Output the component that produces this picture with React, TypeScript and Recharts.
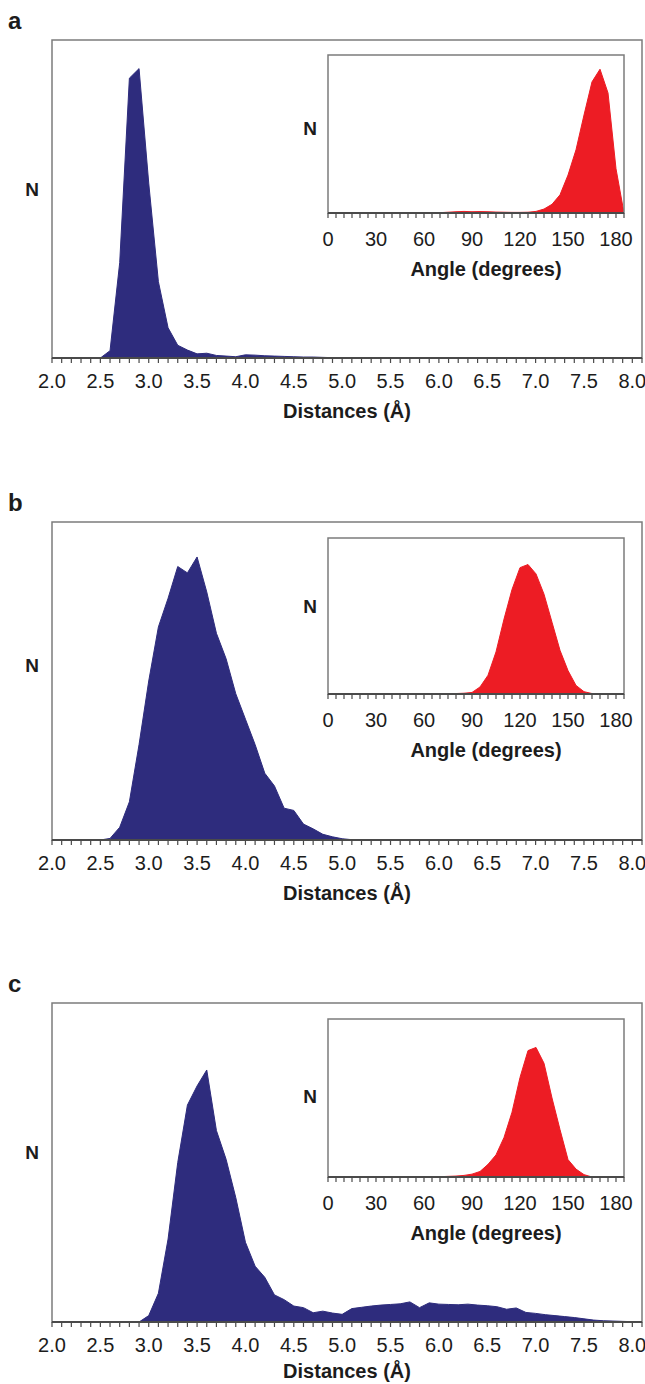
import React from 'react'
import { AreaChart, Area, XAxis, YAxis, ReferenceArea } from 'recharts'

// distance bins (Å), one every 0.1
const distBins = [
  2.0, 2.1, 2.2, 2.3, 2.4, 2.5, 2.6, 2.7, 2.8, 2.9,
  3.0, 3.1, 3.2, 3.3, 3.4, 3.5, 3.6, 3.7, 3.8, 3.9,
  4.0, 4.1, 4.2, 4.3, 4.4, 4.5, 4.6, 4.7, 4.8, 4.9,
  5.0, 5.1, 5.2, 5.3, 5.4, 5.5, 5.6, 5.7, 5.8, 5.9,
  6.0, 6.1, 6.2, 6.3, 6.4, 6.5, 6.6, 6.7, 6.8, 6.9,
  7.0, 7.1, 7.2, 7.3, 7.4, 7.5, 7.6, 7.7, 7.8, 7.9,
  8.0, 8.1,
]
const distMajor = [2.0, 2.5, 3.0, 3.5, 4.0, 4.5, 5.0, 5.5, 6.0, 6.5, 7.0, 7.5, 8.0]
const distLabels = ['2.0', '2.5', '3.0', '3.5', '4.0', '4.5', '5.0', '5.5', '6.0', '6.5', '7.0', '7.5', '8.0']

// N, relative (% of plot height)
const distA = [
  0, 0, 0, 0, 0, 0, 2.3, 30, 88, 91,
  55, 24, 9.5, 4, 2.5, 1.3, 1.5, 0.8, 0.6, 0.4,
  1, 0.9, 0.7, 0.6, 0.5, 0.4, 0.3, 0.3, 0.2, 0.1,
  0.05, 0, 0, 0, 0, 0, 0, 0, 0, 0,
  0, 0, 0, 0, 0, 0, 0, 0, 0, 0,
  0, 0, 0, 0, 0, 0, 0, 0, 0, 0,
  0, 0,
]
const distB = [
  0, 0, 0, 0, 0, 0, 0.5, 4, 12, 30,
  50, 67, 76, 86, 84, 89, 78, 65, 57, 46,
  38, 30, 21, 17, 10, 9.3, 5, 3.5, 1.8, 1,
  0.4, 0.1, 0, 0, 0, 0, 0, 0, 0, 0,
  0, 0, 0, 0, 0, 0, 0, 0, 0, 0,
  0, 0, 0, 0, 0, 0, 0, 0, 0, 0,
  0, 0,
]
const distC = [
  0, 0, 0, 0, 0, 0, 0, 0, 0, 0,
  2, 9, 26, 50, 68, 74, 79, 60, 51, 39,
  25, 17.5, 14, 8.5, 7, 5, 4.5, 2.9, 3.4, 2.8,
  2.4, 4.2, 4.6, 5, 5.3, 5.5, 5.7, 6.3, 4.5, 6,
  5.6, 5.5, 5.4, 5.6, 5.3, 5.1, 4.8, 4, 4.4, 3,
  2.7, 2.3, 2, 1.7, 1.4, 1, 0.6, 0.4, 0.3, 0.2,
  0.1, 0.1,
]

// angle bins (degrees), one every 5
const angleBins = [
  0, 5, 10, 15, 20, 25, 30, 35, 40, 45,
  50, 55, 60, 65, 70, 75, 80, 85, 90, 95,
  100, 105, 110, 115, 120, 125, 130, 135, 140, 145,
  150, 155, 160, 165, 170, 175, 180, 185,
]
const angleMajor = [0, 30, 60, 90, 120, 150, 180]
const angleLabels = ['0', '30', '60', '90', '120', '150', '180']

const angA = [
  0, 0, 0, 0, 0, 0, 0, 0, 0, 0,
  0, 0, 0, 0, 0.2, 0.5, 0.8, 1, 0.8, 0.9,
  0.8, 0.6, 0.5, 0.4, 0.4, 0.5, 1, 2.5, 5.5, 11.5,
  24, 40, 62, 83, 91, 76, 28, 0,
]
const angB = [
  0, 0, 0, 0, 0, 0, 0, 0, 0, 0,
  0, 0, 0, 0, 0, 0, 0.3, 0.5, 1, 4.5,
  12, 27, 48, 67, 81, 83, 77, 64, 46, 28,
  15, 5.5, 1.5, 0.3, 0, 0, 0, 0,
]
const angC = [
  0, 0, 0, 0, 0, 0, 0, 0, 0, 0,
  0, 0, 0, 0, 0.2, 0.4, 0.6, 1, 1.8, 3.5,
  8, 14, 25, 41, 63, 80, 82, 72, 50, 30,
  11, 5, 1.5, 0, 0, 0, 0, 0,
]

const FONT = '"Liberation Sans", Arial, Helvetica, sans-serif'
const NAVY = '#2e2c7d'
const RED = '#ed1c24'
const FRAME = '#7c7c7c'
const AXIS = '#4a4a4a'
const TEXT = '#1c1c1c'

const toRows = (bins: number[], vals: number[]) => bins.map((b, i) => ({ x: b, n: vals[i] }))

// draws the label only on the major ticks, minor ones keep just the tick line
function makeTick(major: number[], labels: string[], dy: number) {
  return (props: any) => {
    const { x, y, payload } = props
    const idx = major.findIndex((m) => Math.abs(m - payload.value) < 1e-6)
    if (idx < 0) return <g />
    return (
      <text x={x} y={y} dy={dy} textAnchor="middle" fontSize={20} fill={TEXT} fontFamily={FONT}>
        {labels[idx]}
      </text>
    )
  }
}

function axisTitle(text: string, dx: number, base: number) {
  return (props: any) => {
    const vb = props.viewBox || {}
    return (
      <text x={vb.x + vb.width / 2 + dx} y={vb.y + base} textAnchor="middle" fontSize={20}
        fontWeight="bold" fill={TEXT} fontFamily={FONT}>
        {text}
      </text>
    )
  }
}

function nLabel(left: number, dy: number) {
  return (props: any) => {
    const vb = props.viewBox || {}
    return (
      <text x={left} y={vb.y + vb.height / 2 + dy} textAnchor="middle" dominantBaseline="central"
        fontSize={19} fontWeight="bold" fill={TEXT} fontFamily={FONT}>
        N
      </text>
    )
  }
}

interface HistProps {
  rows: { x: number; n: number }[]
  bins: number[]
  major: number[]
  labels: string[]
  domain: [number, number]
  color: string
  title: string
  titleDx: number
  titleBase: number
  tickDy: number
  width: number
  right: number
  plotHeight: number
  yAxisWidth: number
  nX: number
  nDy: number
}

function Histogram(p: HistProps) {
  return (
    <AreaChart width={p.width} height={10 + p.plotHeight + 70} data={p.rows}
      margin={{ top: 10, right: p.right, left: 0, bottom: 0 }}>
      <XAxis dataKey="x" type="number" domain={p.domain} ticks={p.bins} interval={0}
        allowDataOverflow height={70}
        axisLine={{ stroke: AXIS, strokeWidth: 2 }}
        tickLine={{ stroke: AXIS, strokeWidth: 1.2 }} tickSize={5}
        tick={makeTick(p.major, p.labels, p.tickDy)}
        label={axisTitle(p.title, p.titleDx, p.titleBase)} />
      <YAxis domain={[0, 100]} width={p.yAxisWidth} tick={false} axisLine={false} tickLine={false}
        label={nLabel(p.nX, p.nDy)} />
      <Area type="linear" dataKey="n" stroke={p.color} strokeWidth={1} fill={p.color} fillOpacity={1}
        dot={false} activeDot={false} isAnimationActive={false} />
      <ReferenceArea x1={p.domain[0]} x2={p.domain[1]} y1={0} y2={100} fill="none"
        stroke={FRAME} strokeWidth={1.5} ifOverflow="visible" />
    </AreaChart>
  )
}

const panels = [
  { letter: 'a', main: distA, inset: angA, boxTop: 40, axis: 358, inTop: 55, inAxis: 213, nDy: -10, inDy: -6, titleBase: 60 },
  { letter: 'b', main: distB, inset: angB, boxTop: 522, axis: 840, inTop: 538, inAxis: 694, nDy: -16, inDy: -10, titleBase: 60 },
  { letter: 'c', main: distC, inset: angC, boxTop: 1003, axis: 1322, inTop: 1019, inAxis: 1177, nDy: -10, inDy: -2, titleBase: 56 },
]

export default function App() {
  return (
    <div style={{ position: 'absolute', left: 0, top: 0, width: 645, height: 1384, overflow: 'hidden', background: '#fff', fontFamily: FONT }}>
      {panels.map((pn) => (
        <React.Fragment key={pn.letter}>
          <div style={{ position: 'absolute', left: 8, top: pn.boxTop - 32, fontSize: 24, lineHeight: '26px', fontWeight: 'bold', color: TEXT }}>
            {pn.letter}
          </div>
          <div style={{ position: 'absolute', left: 0, top: pn.boxTop - 10 }}>
            <Histogram rows={toRows(distBins, pn.main)} bins={distBins} major={distMajor} labels={distLabels}
              domain={[2.0, 8.1]} color={NAVY} title="Distances (Å)" titleDx={0} titleBase={pn.titleBase} tickDy={23}
              width={645} right={3} plotHeight={pn.axis - pn.boxTop} yAxisWidth={52} nX={32} nDy={pn.nDy} />
          </div>
          <div style={{ position: 'absolute', left: 290, top: pn.inTop - 10 }}>
            <Histogram rows={toRows(angleBins, pn.inset)} bins={angleBins} major={angleMajor} labels={angleLabels}
              domain={[0, 185]} color={RED} title="Angle (degrees)" titleDx={10} titleBase={63} tickDy={26}
              width={355} right={21} plotHeight={pn.inAxis - pn.inTop} yAxisWidth={38} nX={20} nDy={pn.inDy} />
          </div>
        </React.Fragment>
      ))}
    </div>
  )
}
